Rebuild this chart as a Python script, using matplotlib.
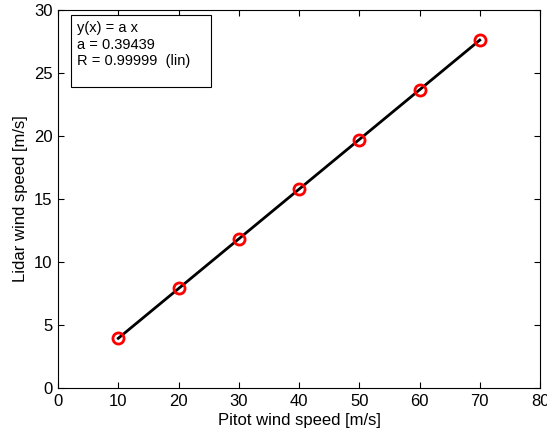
import numpy as np
import matplotlib
matplotlib.use('Agg')
import matplotlib.pyplot as plt
from matplotlib.patches import Rectangle

plt.rcParams['font.family'] = ['Liberation Sans', 'DejaVu Sans']

# measured data
pitot = [10, 20, 30, 40, 50, 60, 70]
lidar = [3.98, 7.93, 11.85, 15.80, 19.72, 23.65, 27.60]
a = 0.39439  # fit slope

fig = plt.figure(figsize=(5.47, 4.36), dpi=100)
ax = fig.add_axes([58 / 547, 1 - 388 / 436, 482 / 547, 378 / 436])

x_fit = np.array([min(pitot), max(pitot)])
ax.plot(x_fit, a * x_fit, color='black', linewidth=2)
ax.plot(pitot, lidar, 'o', markerfacecolor='none', markeredgecolor='red',
        markersize=8, markeredgewidth=2)

ax.set_xlim(0, 80)
ax.set_ylim(0, 30)
ax.set_xticks(range(0, 81, 10))
ax.set_yticks(range(0, 31, 5))
ax.tick_params(direction='in', top=True, right=True, labelsize=12, length=4, pad=4)
ax.set_xlabel('Pitot wind speed [m/s]', fontsize=12, labelpad=3)
ax.set_ylabel('Lidar wind speed [m/s]', fontsize=12, labelpad=4)

# fit info box
ax.add_patch(Rectangle((0.026, 0.796), 0.291, 0.191, transform=ax.transAxes,
                       facecolor='white', edgecolor='black', linewidth=0.8,
                       zorder=5))
ax.text(0.039, 0.97, 'y(x) = a x\na = 0.39439\nR = 0.99999  (lin)',
        transform=ax.transAxes, fontsize=10.5, va='top', ha='left',
        linespacing=1.2, zorder=6)

fig.savefig('out.png', dpi=100)
